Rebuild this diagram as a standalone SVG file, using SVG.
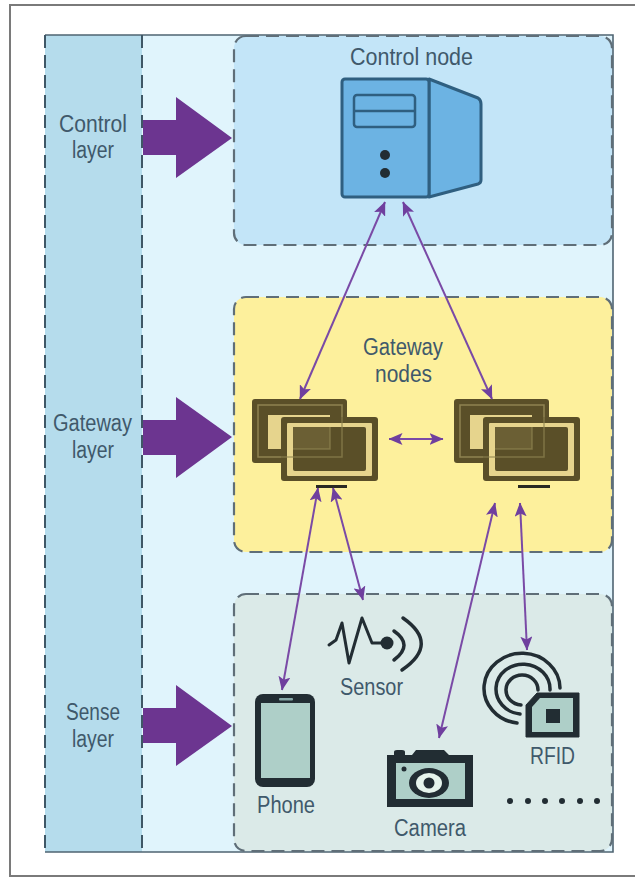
<svg xmlns="http://www.w3.org/2000/svg" width="635" height="878" viewBox="0 0 635 878">
<style>
.t{font-family:"Liberation Sans",Arial,sans-serif;font-size:23px;fill:#40596b;text-anchor:start}
.box{stroke:#5f6e78;stroke-width:2.2;stroke-dasharray:13 7}
.cn{stroke:#7a4aa6;stroke-width:2;fill:none;marker-start:url(#ah);marker-end:url(#ah)}
.big{fill:#6c3590}
.ink{fill:#222d33}
.arc{fill:none;stroke:#222d33;stroke-width:3.5;stroke-linecap:round}
</style>
<defs>
<marker id="ah" viewBox="0 0 14 12" refX="13.5" refY="6" markerWidth="14" markerHeight="12" markerUnits="userSpaceOnUse" orient="auto-start-reverse">
<path d="M0,0 L14,6 L0,12 L3,6 Z" fill="#6f3f9e"/>
</marker>
<g id="monitor">
<rect x="0" y="0" width="95" height="64" rx="3" fill="#5a4f28"/>
<rect x="6" y="6" width="84" height="52" fill="none" stroke="#8f8350" stroke-width="1.5"/>
<rect x="16" y="16" width="62" height="34" fill="#e6d48d"/>
<rect x="29" y="18" width="97" height="64" rx="3" fill="#5a4f28"/>
<rect x="35" y="24" width="85" height="53" rx="1" fill="#e6d48d"/>
<rect x="41" y="28" width="73" height="44" rx="2" fill="#5a4f28"/>
<path d="M41,28H78V50H41Z" fill="#6b5f34"/>
<path d="M78,28V50H41M90,18V58H29" fill="none" stroke="#8f8350" stroke-width="1.5" opacity=".7"/>
</g>
</defs>
<rect width="635" height="878" fill="#fff"/>
<path d="M635,5H10V876H635" fill="none" stroke="#7a7a7a" stroke-width="2"/>
<g id="background">
<rect x="45" y="35" width="568" height="817" fill="#e0f4fc"/>
<rect x="45" y="35" width="97" height="817" fill="#b5dcec"/>
<path d="M45,35H613V852H45" fill="none" stroke="#4f6472" stroke-width="1.6"/>
<path d="M142,35V852" stroke="#3f5766" stroke-width="2" stroke-dasharray="13 7" fill="none"/>
<path d="M45,35V852" stroke="#3f5766" stroke-width="2" stroke-dasharray="13 7" fill="none"/>
</g>
<g id="control-layer">
<text class="t" x="59" y="132" textLength="68" lengthAdjust="spacingAndGlyphs">Control</text>
<text class="t" x="72" y="158" textLength="42" lengthAdjust="spacingAndGlyphs">layer</text>
<path class="big" d="M143,120H176V97L232,138L176,178V155H143Z"/>
</g>
<g id="gateway-layer">
<text class="t" x="53" y="431" textLength="79" lengthAdjust="spacingAndGlyphs">Gateway</text>
<text class="t" x="72" y="458" textLength="42" lengthAdjust="spacingAndGlyphs">layer</text>
<path class="big" d="M143,420H176V397L232,437L176,478V455H143Z"/>
</g>
<g id="sense-layer">
<text class="t" x="66" y="720" textLength="54" lengthAdjust="spacingAndGlyphs">Sense</text>
<text class="t" x="72" y="747" textLength="42" lengthAdjust="spacingAndGlyphs">layer</text>
<path class="big" d="M143,708H176V685L232,726L176,766V743H143Z"/>
</g>
<g id="control-node">
<rect class="box" x="234" y="36" width="378" height="209" rx="12" fill="#c3e5f8"/>
<text class="t" x="350" y="65" textLength="123" lengthAdjust="spacingAndGlyphs">Control node</text>
<path d="M429,79L478,98Q481,100 481,104V180Q481,183 478,184L429,197Z" fill="#6cb3e3" stroke="#2f5f80" stroke-width="3" stroke-linejoin="round"/>
<rect x="342" y="79" width="87" height="118" rx="3" fill="#6cb3e3" stroke="#2f5f80" stroke-width="3"/>
<rect x="354" y="95" width="61" height="32" rx="3" fill="#6cb3e3" stroke="#2f5f80" stroke-width="2.5"/>
<path d="M354,111H415" stroke="#2f5f80" stroke-width="2.5"/>
<circle class="ink" cx="385" cy="155" r="5"/>
<circle class="ink" cx="385" cy="173" r="5"/>
</g>
<g id="gateway-nodes">
<rect class="box" x="234" y="297" width="378" height="255" rx="12" fill="#fdf09c"/>
<text class="t" x="363" y="355" textLength="80" lengthAdjust="spacingAndGlyphs">Gateway</text>
<text class="t" x="375" y="382" textLength="57" lengthAdjust="spacingAndGlyphs">nodes</text>
<use href="#monitor" x="252" y="399"/>
<rect x="316" y="485" width="31" height="3" fill="#2a2a22"/>
<use href="#monitor" x="454" y="399"/>
<rect x="518" y="485" width="32" height="3" fill="#2a2a22"/>
</g>
<g id="sense-nodes">
<rect class="box" x="234" y="594" width="378" height="257" rx="12" fill="#dbeae8"/>
</g>
<g id="sensor">
<path d="M329,645L336,640L342,623L349,663L362,618L372,643H387" fill="none" stroke="#222d33" stroke-width="3" stroke-linejoin="round" stroke-linecap="round"/>
<circle class="ink" cx="387" cy="643" r="6.5"/>
<path class="arc" d="M394,631Q414,645 394,660"/>
<path class="arc" d="M403,618Q440,644 402,670"/>
<text class="t" x="340" y="695" textLength="63" lengthAdjust="spacingAndGlyphs">Sensor</text>
</g>
<g id="phone">
<rect x="255" y="694" width="60" height="93" rx="8" fill="#222d33"/>
<rect x="261" y="703" width="49" height="75" fill="#aecfc8"/>
<rect x="279" y="698" width="14" height="2.5" rx="1" fill="#8aa"/>
<text class="t" x="257" y="813" textLength="58" lengthAdjust="spacingAndGlyphs">Phone</text>
</g>
<g id="camera">
<path d="M387,755H394V752Q394,750 397,750H402Q405,750 405,752V755H412L416,750H444L449,755H473V807H387Z" fill="#222d33"/>
<rect x="396" y="763" width="69" height="36" fill="#aecfc8"/>
<path d="M412,763L416,759H444L449,763Z" fill="#222d33"/>
<ellipse cx="429" cy="783" rx="20" ry="15" fill="#222d33"/>
<ellipse cx="429" cy="783" rx="13" ry="10" fill="#e6f4ec"/>
<circle class="ink" cx="429" cy="783" r="5.5"/>
<circle class="ink" cx="404" cy="769" r="2.5"/>
<text class="t" x="394" y="836" textLength="72" lengthAdjust="spacingAndGlyphs">Camera</text>
</g>
<g id="rfid">
<path class="arc" d="M560,688A38,35 0 1 0 517,723"/>
<path class="arc" d="M550,690A27,25 0 1 0 520,714"/>
<path class="arc" d="M538,690A16,15 0 1 0 521,705"/>
<path d="M526,737V705L537,693H579V737Z" fill="#222d33" stroke="#222d33" stroke-linejoin="round"/>
<path d="M532,732V707L540,698H573V732Z" fill="#aecfc8"/>
<rect class="ink" x="546" y="709" width="14" height="14"/>
<text class="t" x="530" y="764" textLength="45" lengthAdjust="spacingAndGlyphs">RFID</text>
</g>
<g id="more" class="ink">
<circle cx="510" cy="801" r="3"/><circle cx="528" cy="801" r="3"/><circle cx="545" cy="801" r="3"/><circle cx="562" cy="801" r="3"/><circle cx="580" cy="801" r="3"/><circle cx="597" cy="801" r="3"/>
</g>
<g id="connectors">
<path class="cn" d="M385,202L300,399"/>
<path class="cn" d="M403,202L492,399"/>
<path class="cn" d="M389,439H443"/>
<path class="cn" d="M318,488L282,690"/>
<path class="cn" d="M333,488L363,600"/>
<path class="cn" d="M495,503L439,738"/>
<path class="cn" d="M520,503L527,650"/>
</g>
</svg>
